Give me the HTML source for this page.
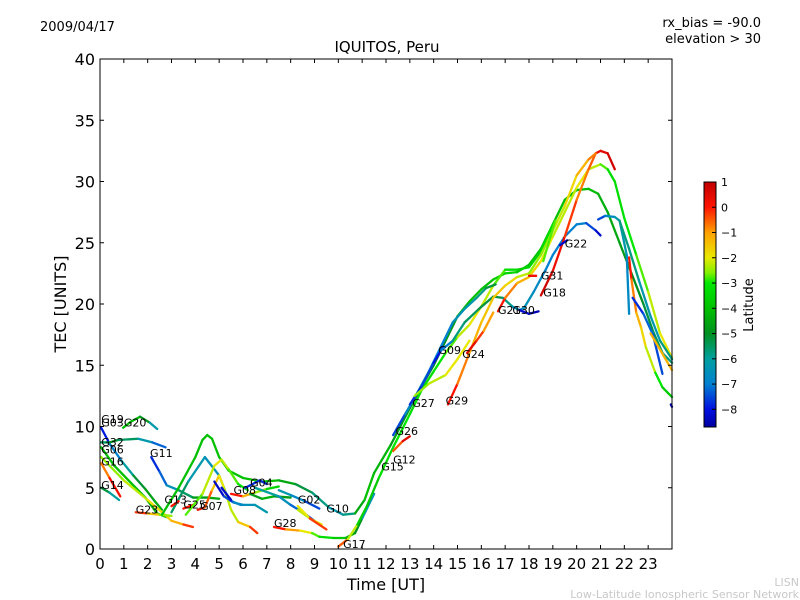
<!DOCTYPE html>
<html><head><meta charset="utf-8"><style>
body{margin:0;background:#fff;}
svg{display:block;font-family:"DejaVu Sans","Liberation Sans",sans-serif;}
</style></head><body>
<svg id="chart" width="800" height="600" viewBox="0 0 800 600">
<rect x="0" y="0" width="800" height="600" fill="#fff"/>
<text x="40" y="31" font-size="13">2009/04/17</text>
<text x="761" y="27" font-size="13" text-anchor="end">rx_bias = -90.0</text>
<text x="761" y="43" font-size="13" text-anchor="end">elevation &gt; 30</text>
<text x="387" y="52" font-size="15" text-anchor="middle">IQUITOS, Peru</text>
<g id="tracks"></g>
<g id="labels"></g>
<rect x="100" y="59" width="572" height="490" fill="none" stroke="#000" stroke-width="1"/>
<g id="axes"></g>
<text x="386" y="590" font-size="16" text-anchor="middle">Time [UT]</text>
<text transform="translate(66,304) rotate(-90)" font-size="16" text-anchor="middle">TEC [UNITS]</text>
<defs><linearGradient id="jet" x1="0" y1="0" x2="0" y2="1"></linearGradient></defs>
<rect x="704" y="182" width="12" height="245" fill="url(#jet)" stroke="#000" stroke-width="1"/>
<g id="cbar"></g>
<text transform="translate(753,305) rotate(-90)" font-size="13" text-anchor="middle">Latitude</text>
<text x="799" y="586" font-size="11" fill="#c8c8c8" text-anchor="end">LISN</text>
<text x="799" y="598" font-size="11" fill="#c8c8c8" text-anchor="end">Low-Latitude Ionospheric Sensor Network</text>
</svg>
<script>
const xTicks=[0,1,2,3,4,5,6,7,8,9,10,11,12,13,14,15,16,17,18,19,20,21,22,23];
const yTicks=[0,5,10,15,20,25,30,35,40];
const cbarTicks=[1,0,-1,-2,-3,-4,-5,-6,-7,-8];
const latMin=-8.7, latMax=1.0;
const cmapLat=[1.0,0.0,-1.0,-2.0,-2.6,-3.0,-4.0,-5.0,-6.0,-7.0,-8.0,-8.7];
const cmapCol=[[192,0,0],[255,20,0],[255,160,0],[232,232,0],[128,240,0],[0,232,0],[0,192,0],[0,144,32],[0,160,160],[0,128,208],[0,16,224],[0,0,160]];
// tracks: [hour, TEC, latitude]
const g19=[[0.05,9.9,-8.3],[0.4,8.6,-7.5],[0.9,7.2,-6.5],[1.4,6.0,-5.5],[1.9,4.9,-4.8],[2.3,3.9,-4.5],[2.6,3.2,-4.2]];
const g14a=[[0.05,5.0,-5],[0.4,4.6,-5.5],[0.8,4.0,-6.5]];
const g14b=[[0.05,7.0,-1],[0.4,5.8,-0.5],[0.85,4.3,0.8]];
const g16=[[0.05,8.3,-4],[0.6,6.8,-4],[1.2,5.6,-4],[1.9,4.2,-4],[2.4,2.9,-4.5],[2.8,2.6,-4]];
const g16y=[[0.05,7.5,-2.5],[1.0,5.6,-2.5],[2.0,4.0,-2],[2.6,3.0,-1.8],[3.0,2.3,-1.5],[3.5,2.0,-1],[3.9,1.8,0.5]];
const g23=[[1.5,3.0,0.5],[2.0,2.9,-1],[2.5,2.8,-2],[3.0,2.7,-3]];
const g20=[[0.97,9.9,-4],[1.3,10.4,-4],[1.68,10.8,-4.2],[2.1,10.3,-5.5],[2.4,9.8,-7]];
const g32=[[0.05,8.7,-6],[0.4,8.7,-5],[0.75,8.9,-5],[1.6,9.0,-6],[2.2,8.7,-6.5],[2.75,8.3,-8]];
const g11=[[2.15,7.5,-8],[2.5,6.3,-7.5],[2.8,5.2,-7],[3.3,4.8,-6],[3.9,4.2,-5],[4.5,4.2,-4.5],[5.0,4.1,-4.5]];
const gPeak=[[2.6,2.8,-4],[3.3,5.0,-4],[4.0,7.5,-4],[4.3,8.9,-4],[4.5,9.3,-4],[4.7,9.0,-4],[5.0,7.5,-4],[5.4,6.4,-4],[6.0,5.8,-4],[6.8,5.5,-4],[7.5,5.6,-4],[8.2,5.3,-5],[8.9,4.6,-5.5],[9.6,3.4,-6],[10.2,2.8,-6.5],[10.7,2.9,-5],[11.1,4.0,-4],[11.5,6.2,-4],[12.2,8.5,-4.5],[13.0,11.5,-5],[13.5,13.3,-5],[14.0,15.0,-5],[14.5,17.0,-5],[15.0,19.0,-4.5],[15.5,20.2,-4],[16.0,21.2,-4],[16.5,22.0,-4],[17.0,22.5,-3.5],[17.5,22.6,-3.5],[18.0,23.2,-4],[18.5,24.5,-4],[19.0,26.5,-4],[19.5,28.5,-4],[20.0,29.3,-4],[20.5,29.4,-4],[20.9,29.0,-4.2],[21.3,27.5,-4.5],[21.8,25.0,-4.5],[22.3,22.5,-5],[22.8,20.0,-5],[23.2,17.8,-5.5],[23.6,16.0,-5.5],[24.0,15.2,-6]];
const gTeal=[[3.0,3.0,-5],[3.7,5.5,-6],[4.4,7.5,-6.5],[5.0,6.0,-6.5],[5.4,4.0,-6.5],[5.9,3.6,-6.5],[6.5,3.6,-6.5],[7.0,3.0,-6]];
const g07=[[4.1,3.2,0.5],[4.4,3.4,0],[4.7,4.8,-1],[5.0,6.0,-2],[5.2,5.0,-2],[5.5,3.2,-2.5],[5.8,2.2,-2],[6.3,1.8,-1],[6.6,1.3,0.5]];
const g25=[[3.5,3.3,0.5],[3.9,3.6,-0.5]];
const g13=[[3.0,3.5,0.5],[3.3,3.9,-0.5]];
const gLime=[[3.6,2.8,-3],[4.3,4.5,-2.5],[4.8,6.8,-2],[5.1,7.3,-2],[5.4,6.5,-2.5],[5.8,5.3,-3],[6.2,4.8,-3]];
const gBlue1=[[4.8,5.5,-8.5],[5.2,4.3,-8],[5.6,3.8,-7],[6.0,3.6,-6.5]];
const gBlue2=[[5.1,5.0,-8.5],[5.5,4.0,-8]];
const g08=[[5.5,4.5,0.5],[6.0,4.3,-0.5],[6.5,4.6,-2],[7.0,4.9,-3],[7.5,5.1,-4]];
const g04a=[[6.3,4.5,-5],[6.8,4.1,-4.5],[7.3,4.3,-4],[8.0,4.2,-5.5]];
const g04b=[[6.5,5.0,-6],[7.5,4.3,-6],[8.0,3.6,-7],[8.5,3.0,-7.5],[9.0,2.3,-8]];
const g04c=[[6.1,5.0,-8],[6.7,5.6,-7.5],[7.0,5.3,-8]];
const g02=[[7.5,4.8,-6],[8.0,4.4,-6.5],[8.6,3.9,-7],[9.2,3.3,-8]];
const g02y=[[8.3,3.2,-2.5],[8.8,2.5,-2],[9.3,2.0,-2]];
const g02r=[[8.3,3.5,-3],[8.8,2.5,-1],[9.5,1.6,0.5]];
const g28=[[7.3,1.8,0.5],[7.8,1.6,-0.5],[8.4,1.5,-1.5],[8.9,1.3,-2.5],[9.2,1.0,-3],[9.8,0.9,-3.5],[10.3,0.9,-4],[10.7,1.3,-4.5],[11.0,2.5,-5.5],[11.5,4.5,-7.5]];
const g17=[[10.0,0.2,0.5],[10.4,0.8,-1.5],[10.8,2.0,-3],[11.2,3.5,-4],[11.7,5.8,-3.5],[12.3,8.3,-3],[13.0,11.0,-3],[13.5,13.0,-3.5],[14.0,14.5,-3],[14.5,16.0,-3],[15.0,17.3,-2.5],[15.5,18.3,-2],[16.0,19.8,-2],[16.5,21.5,-2.5],[17.0,22.8,-3],[17.5,22.8,-3.5],[18.0,23.0,-3.5],[18.5,24.3,-3.5],[19.0,26.5,-3]];
const g26=[[12.3,9.3,-8],[12.8,11.0,-7],[13.3,12.7,-6.5],[13.8,14.5,-6.5],[14.3,16.5,-7.5],[14.8,18.5,-6.5],[15.3,19.6,-6.5],[15.8,20.5,-6],[16.2,21.3,-5.5],[16.6,21.6,-5]];
const g27=[[13.0,11.8,-8],[13.5,13.3,-7.5],[14.0,15.2,-7.5],[14.4,16.5,-8.5]];
const g09=[[14.3,16.2,-8],[14.8,17.0,-6],[15.3,18.5,-5.5],[15.9,19.6,-5.5],[16.5,20.6,-5],[16.9,20.5,-5.5],[17.3,19.8,-6],[17.6,19.5,-7],[17.8,19.7,-6.5],[18.2,21.0,-6.5],[18.7,22.8,-7],[19.0,24.0,-7],[19.5,25.5,-7],[20.0,26.5,-7],[20.4,26.6,-7],[20.8,26.0,-8],[21.0,25.6,-8.5]];
const g30=[[17.6,19.5,-8],[18.0,19.2,-8.5],[18.4,19.4,-8.5]];
const g21=[[16.7,19.4,0.5],[17.0,20.5,-0.5],[17.5,21.7,-1],[18.0,22.2,-1.5],[18.5,23.5,-2],[19.0,25.5,-2],[19.5,27.5,-2.5],[20.0,29.5,-2],[20.5,31.0,-2],[21.0,31.4,-2.5],[21.3,31.0,-3],[21.6,30.0,-3.5],[22.0,27.0,-3],[22.5,24.0,-3],[23.0,21.0,-2.5],[23.5,17.6,-2],[24.0,15.6,-2]];
const g18=[[18.5,20.7,1],[19.0,22.7,0.5],[19.5,25.5,0],[20.0,28.5,-0.5],[20.5,31.0,-1],[20.8,32.3,0],[21.0,32.5,0.5],[21.3,32.3,0.5],[21.6,31.0,1]];
const g29=[[14.6,11.8,0.5],[15.0,13.5,-0.5],[15.5,16.0,-1],[16.0,18.5,-1.5],[16.5,20.5,-1.5],[17.0,21.5,-1.5],[17.5,22.2,-2],[18.0,22.5,-2.5],[18.5,24.0,-2.5],[19.0,26.0,-2.5],[19.5,28.0,-2],[20.0,30.5,-1.5],[20.5,31.8,-1],[20.8,32.3,-0.5]];
const g29b=[[13.2,12.5,-2.5],[13.8,13.5,-2.5],[14.5,14.2,-2],[15.0,15.5,-2],[15.5,17.0,-2]];
const g24=[[15.4,16.0,0.8],[15.8,17.0,0],[16.1,17.8,-0.5],[16.5,19.3,-1.5]];
const g12=[[12.3,8.0,-1],[12.7,8.8,0],[13.0,9.2,1]];
const g31=[[18.0,22.3,0.5],[18.3,22.3,0]];
const g22=[[19.3,24.8,-8],[19.6,25.2,-8.5]];
const gLime2=[[18.6,23.5,-3],[19.1,26.8,-2.5]];
const rRed=[[22.2,23.8,0.5],[22.3,22.0,-0.5],[22.5,19.3,-1],[22.7,18.1,-1.5],[22.9,16.5,-2],[23.3,14.4,-2.5],[23.6,13.2,-3.5],[24.0,12.4,-4]];
const rBlue=[[22.35,20.5,-8],[22.8,19.2,-7.5],[23.2,17.5,-7],[23.6,14.3,-8]];
const rArc=[[20.9,26.9,-8],[21.2,27.2,-7],[21.6,27.1,-6.5],[21.8,26.8,-6],[22.1,24.0,-6.5],[22.2,19.2,-7]];
const rTeal=[[21.8,26.8,-6],[22.2,24.5,-5.5],[22.6,22.0,-6],[23.1,19.0,-6.5],[23.5,17.0,-6],[24.0,15.5,-5.5]];
const rOrange=[[23.1,17.6,-1],[24.0,14.6,-1.5]];
const rEdge=[[23.95,11.8,-8.5],[24.0,11.6,-8.5]];
const tracks=[g19,g14a,g14b,g16,g16y,g23,g20,g32,g11,gPeak,gTeal,g07,g25,g13,gLime,gBlue1,gBlue2,g08,g04a,g04b,g04c,g02,g02y,g02r,g28,g17,g26,g27,g09,g30,g21,g18,g29,g29b,g24,g12,g31,g22,gLime2,rRed,rBlue,rArc,rTeal,rOrange,rEdge];
const trackNames=['g19','g14a','g14b','g16','g16y','g23','g20','g32','g11','gpeak','gteal','g07','g25','g13','glime','gblue1','gblue2','g08','g04a','g04b','g04c','g02','g02y','g02r','g28','g17','g26','g27','g09','g30','g21','g18','g29','g29b','g24','g12','g31','g22','glime2','rred','rblue','rarc','rteal','rorange','redge'];
const labelNames=['G19','G03','G20','G32','G06','G16','G14','G11','G13','G23','G25','G07','G08','G04','G28','G02','G10','G17','G15','G12','G26','G27','G29','G09','G24','G21','G30','G18','G31','G22'];
const labelT=[0.05,0.05,1.0,0.05,0.05,0.05,0.05,2.1,2.7,1.5,3.5,4.2,5.6,6.3,7.3,8.3,9.5,10.2,11.8,12.3,12.4,13.1,14.5,14.2,15.2,16.7,17.3,18.6,18.5,19.5];
const labelV=[10.3,10.0,10.0,8.4,7.8,6.8,4.9,7.5,3.7,2.9,3.3,3.2,4.5,5.1,1.8,3.7,3.0,0.1,6.4,7.0,9.3,11.6,11.8,15.9,15.6,19.2,19.2,20.6,22.0,24.6];
const sx=t=>100+t*572/24;
const sy=v=>549-v*490/40;
const NS='http://www.w3.org/2000/svg';
function cmap(l){l=Math.max(latMin,Math.min(latMax,l));
for(let i=0;i<cmapLat.length-1;i++){if(l<=cmapLat[i]&&l>=cmapLat[i+1]){const f=(cmapLat[i]-l)/(cmapLat[i]-cmapLat[i+1]);
const a=cmapCol[i],b=cmapCol[i+1];return `rgb(${Math.round(a[0]+(b[0]-a[0])*f)},${Math.round(a[1]+(b[1]-a[1])*f)},${Math.round(a[2]+(b[2]-a[2])*f)})`;}}
return 'rgb(0,0,160)';}
const grad=document.getElementById('jet');
cmapLat.forEach((l,i)=>{const s=document.createElementNS(NS,'stop');
s.setAttribute('offset',((latMax-l)/(latMax-latMin)).toFixed(3));
s.setAttribute('stop-color',`rgb(${cmapCol[i].join(',')})`);grad.appendChild(s);});
const tg=document.getElementById('tracks');
tracks.forEach((tr,i)=>{const g=document.createElementNS(NS,'g');


for(let k=0;k<tr.length-1;k++){const a=tr[k],b=tr[k+1];const ln=document.createElementNS(NS,'line');
ln.setAttribute('x1',sx(a[0]));ln.setAttribute('y1',sy(a[1]));ln.setAttribute('x2',sx(b[0]));ln.setAttribute('y2',sy(b[1]));
ln.setAttribute('stroke',cmap((a[2]+b[2])/2));ln.setAttribute('stroke-width','2.3');ln.setAttribute('stroke-linecap','round');


g.appendChild(ln);}
tg.appendChild(g);});
const lg=document.getElementById('labels');
labelNames.forEach((n,i)=>{const t=document.createElementNS(NS,'text');
t.setAttribute('x',sx(labelT[i]));t.setAttribute('y',sy(labelV[i]));t.setAttribute('font-size','11');t.textContent=n;


lg.appendChild(t);});
const ag=document.getElementById('axes');
function mk(tag,attrs,txt){const e=document.createElementNS(NS,tag);for(const k in attrs)e.setAttribute(k,attrs[k]);if(txt!==undefined)e.textContent=txt;return e;}
xTicks.forEach(t=>{const x=sx(t);
const a=mk('line',{x1:x,y1:549,x2:x,y2:545,stroke:'#000'});

ag.appendChild(a);
const b=mk('line',{x1:x,y1:59,x2:x,y2:63,stroke:'#000'});

ag.appendChild(b);
const l=mk('text',{x:x,y:569,'font-size':'15','text-anchor':'middle'},String(t));

ag.appendChild(l);});
yTicks.forEach(v=>{const y=sy(v);
const a=mk('line',{x1:100,y1:y,x2:104,y2:y,stroke:'#000'});

ag.appendChild(a);
const b=mk('line',{x1:672,y1:y,x2:668,y2:y,stroke:'#000'});

ag.appendChild(b);
const l=mk('text',{x:95,y:y+6,'font-size':'16','text-anchor':'end'},String(v));

ag.appendChild(l);});
const cg=document.getElementById('cbar');
cbarTicks.forEach(v=>{const y=182+(latMax-v)*245/(latMax-latMin);
const a=mk('line',{x1:716,y1:y,x2:712,y2:y,stroke:'#000'});

cg.appendChild(a);
const l=mk('text',{x:721,y:y+4,'font-size':'11'},String(v).replace('-','\u2212'));

cg.appendChild(l);});
</script>
</body></html>
